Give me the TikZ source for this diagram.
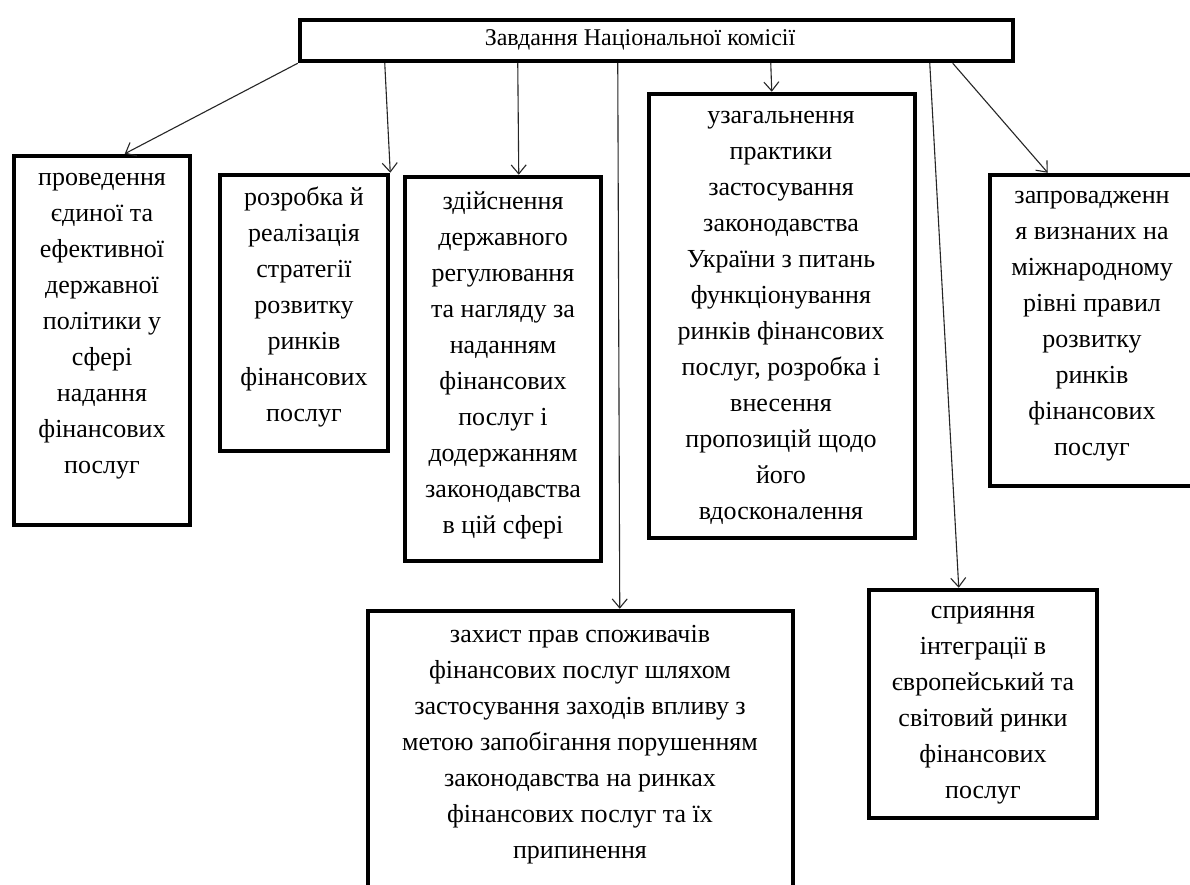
\documentclass[tikz,border=0pt]{standalone}
\usepackage{fontspec}
\setmainfont{Liberation Serif}
\usetikzlibrary{calc,arrows.meta}
\tikzset{
  box/.style={draw=black, line width=4.5pt, fill=white, inner sep=0pt},
  txt/.style={align=center, inner sep=0pt, font=\fontsize{26}{36}\selectfont},
  ttl/.style={inner sep=0pt, font=\fontsize{24}{28}\selectfont},
  arr/.style={draw=black!85, line width=1.1pt, -{Straight Barb[length=9pt,width=15pt,line width=1.1pt]}}
}
\begin{document}
\begin{tikzpicture}[x=1pt,y=-1pt]
\useasboundingbox (0,0) rectangle (1190,885);
\clip (0,0) rectangle (1190,885);
\fill[white] (0,0) rectangle (1190,885);
% boxes
\node[box, minimum width=713pt, minimum height=41pt] (top) at (656.5,40.5) {};
\node[box, minimum width=176pt, minimum height=369pt] (b1) at (102,340.5) {};
\node[box, minimum width=168pt, minimum height=276pt] (b2) at (304,313) {};
\node[box, minimum width=196pt, minimum height=384pt] (b3) at (503,369) {};
\node[box, minimum width=266pt, minimum height=444pt] (b4) at (782,316) {};
\node[box, minimum width=206pt, minimum height=311pt] (b5) at (1093,330.5) {};
\node[box, minimum width=425pt, minimum height=294pt] (b6) at (580.5,758) {};
\node[box, minimum width=228pt, minimum height=228pt] (b7) at (983,704) {};
% texts
\node[ttl] (t0) at (640,40) {Завдання Національної комісії};
\node[txt] (t1) at (102,326) {проведення\\єдиної та\\ефективної\\державної\\політики у\\сфері\\надання\\фінансових\\послуг};
\node[txt] (t2) at (304,306.5) {розробка й\\реалізація\\стратегії\\розвитку\\ринків\\фінансових\\послуг};
\node[txt] (t3) at (503,365.5) {здійснення\\державного\\регулювання\\та нагляду за\\наданням\\фінансових\\послуг і\\додержанням\\законодавства\\в цій сфері};
\node[txt] (t4) at (781,317.5) {узагальнення\\практики\\застосування\\законодавства\\України з питань\\функціонування\\ринків фінансових\\послуг, розробка і\\внесення\\пропозицій щодо\\його\\вдосконалення};
\node[txt] (t5) at (1092,326.5) {запровадженн\\я визнаних на\\міжнародному\\рівні правил\\розвитку\\ринків\\фінансових\\послуг};
\node[txt] (t6) at (580,745) {захист прав споживачів\\фінансових послуг шляхом\\застосування заходів впливу з\\метою запобігання порушенням\\законодавства на ринках\\фінансових послуг та їх\\припинення};
\node[txt] (t7) at (983,705) {сприяння\\інтеграції в\\європейський та\\світовий ринки\\фінансових\\послуг};
% connectors
\draw[arr] (top.south west) -- ($(b1.north west)+(113,0)$);
\draw[arr] ($(top.south west)+(87,0)$) -- (b2.north east);
\draw[arr] ($(top.south west)+(220,0)$) -- ($(b3.north west)+(116,0)$);
\draw[arr] ($(top.south west)+(320,0)$) -- ($(b6.north west)+(254,0)$);
\draw[arr] ($(top.south west)+(473,0)$) -- ($(b4.north west)+(125,0)$);
\draw[arr] ($(top.south west)+(632,0)$) -- ($(b7.north west)+(92,0)$);
\draw[arr] ($(top.south west)+(655,0)$) -- ($(b5.north west)+(60,0)$);
\end{tikzpicture}
\end{document}
